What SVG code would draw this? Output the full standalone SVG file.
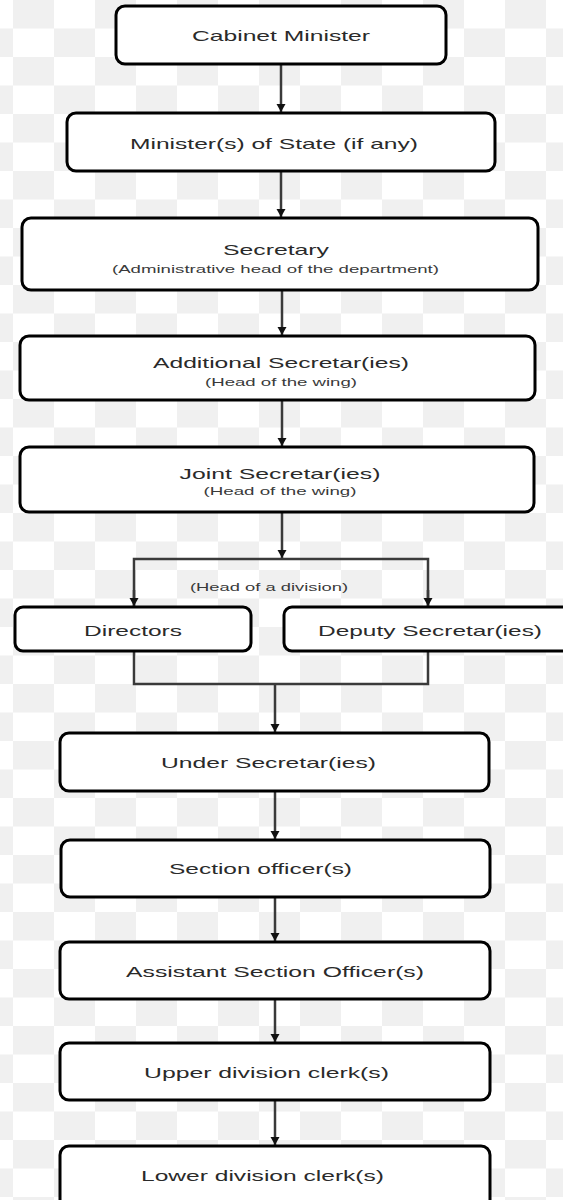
<svg xmlns="http://www.w3.org/2000/svg" width="563" height="1200" viewBox="0 0 563 1200">
<defs>
<pattern id="checker" x="13" y="0" width="82" height="57" patternUnits="userSpaceOnUse">
<rect x="0" y="0" width="82" height="57" fill="#ffffff"/>
<rect x="0" y="0" width="41" height="28.5" fill="#f0f0f0"/>
<rect x="41" y="28.5" width="41" height="28.5" fill="#f0f0f0"/>
</pattern>
<marker id="arrow" markerUnits="userSpaceOnUse" markerWidth="10" markerHeight="10" refX="8" refY="5" orient="auto">
<path d="M0,0.5 L8,5 L0,9.5 Z" fill="#111"/>
</marker>
<style>
.box{fill:#ffffff;stroke:#000;stroke-width:3}
.conn{fill:none;stroke:#3a3a3a;stroke-width:2.5}
.t{font-family:"Liberation Sans",Arial,sans-serif;font-size:15px;fill:#2a2a2a;text-anchor:middle}
.s{font-family:"Liberation Sans",Arial,sans-serif;font-size:10.5px;fill:#3a3a3a;text-anchor:middle}
</style>
</defs>
<rect x="0" y="0" width="563" height="1200" fill="url(#checker)"/>
<g id="connectors">
<line class="conn" x1="281" y1="64" x2="281" y2="112" marker-end="url(#arrow)"/>
<line class="conn" x1="281" y1="171" x2="281" y2="217" marker-end="url(#arrow)"/>
<line class="conn" x1="282" y1="290" x2="282" y2="335" marker-end="url(#arrow)"/>
<line class="conn" x1="282" y1="400" x2="282" y2="446" marker-end="url(#arrow)"/>
<line class="conn" x1="282" y1="512" x2="282" y2="558" marker-end="url(#arrow)"/>
<polyline class="conn" points="134,606 134,559 428,559 428,606"/>
<line class="conn" x1="134" y1="590" x2="134" y2="606" marker-end="url(#arrow)"/>
<line class="conn" x1="428" y1="590" x2="428" y2="606" marker-end="url(#arrow)"/>
<polyline class="conn" points="134,651 134,684 428,684 428,651"/>
<line class="conn" x1="275" y1="684" x2="275" y2="732" marker-end="url(#arrow)"/>
<line class="conn" x1="275" y1="791" x2="275" y2="839" marker-end="url(#arrow)"/>
<line class="conn" x1="275" y1="897" x2="275" y2="941" marker-end="url(#arrow)"/>
<line class="conn" x1="275" y1="999" x2="275" y2="1042" marker-end="url(#arrow)"/>
<line class="conn" x1="275" y1="1100" x2="275" y2="1145" marker-end="url(#arrow)"/>
</g>
<text class="s" x="269" y="591" textLength="158" lengthAdjust="spacingAndGlyphs">(Head of a division)</text>
<g id="cabinet-minister">
<rect class="box" x="116" y="6" width="330" height="58" rx="9"/>
<text class="t" x="281" y="41" textLength="178" lengthAdjust="spacingAndGlyphs">Cabinet Minister</text>
</g>
<g id="ministers-of-state">
<rect class="box" x="67" y="113" width="428" height="58" rx="9"/>
<text class="t" x="274" y="149" textLength="288" lengthAdjust="spacingAndGlyphs">Minister(s) of State (if any)</text>
</g>
<g id="secretary">
<rect class="box" x="22" y="218" width="516" height="72" rx="9"/>
<text class="t" x="276" y="255" textLength="106" lengthAdjust="spacingAndGlyphs">Secretary</text>
<text class="s" x="275.5" y="273" textLength="327" lengthAdjust="spacingAndGlyphs">(Administrative head of the department)</text>
</g>
<g id="additional-secretaries">
<rect class="box" x="20" y="336" width="515" height="64" rx="9"/>
<text class="t" x="281" y="368" textLength="256" lengthAdjust="spacingAndGlyphs">Additional Secretar(ies)</text>
<text class="s" x="281" y="386" textLength="152" lengthAdjust="spacingAndGlyphs">(Head of the wing)</text>
</g>
<g id="joint-secretaries">
<rect class="box" x="20" y="447" width="514" height="65" rx="9"/>
<text class="t" x="280" y="479" textLength="201" lengthAdjust="spacingAndGlyphs">Joint Secretar(ies)</text>
<text class="s" x="280" y="495" textLength="153" lengthAdjust="spacingAndGlyphs">(Head of the wing)</text>
</g>
<g id="directors">
<rect class="box" x="15" y="607" width="236" height="44" rx="8"/>
<text class="t" x="133" y="636" textLength="98" lengthAdjust="spacingAndGlyphs">Directors</text>
</g>
<g id="deputy-secretaries">
<rect class="box" x="284" y="607" width="300" height="44" rx="8"/>
<text class="t" x="430" y="636" textLength="224" lengthAdjust="spacingAndGlyphs">Deputy Secretar(ies)</text>
</g>
<g id="under-secretaries">
<rect class="box" x="60" y="733" width="429" height="58" rx="9"/>
<text class="t" x="268.5" y="768" textLength="215" lengthAdjust="spacingAndGlyphs">Under Secretar(ies)</text>
</g>
<g id="section-officers">
<rect class="box" x="61" y="840" width="429" height="57" rx="9"/>
<text class="t" x="260.5" y="874" textLength="183" lengthAdjust="spacingAndGlyphs">Section officer(s)</text>
</g>
<g id="assistant-section-officers">
<rect class="box" x="60" y="942" width="430" height="57" rx="9"/>
<text class="t" x="275" y="977" textLength="298" lengthAdjust="spacingAndGlyphs">Assistant Section Officer(s)</text>
</g>
<g id="upper-division-clerks">
<rect class="box" x="60" y="1043" width="430" height="57" rx="9"/>
<text class="t" x="266.5" y="1078" textLength="245" lengthAdjust="spacingAndGlyphs">Upper division clerk(s)</text>
</g>
<g id="lower-division-clerks">
<rect class="box" x="60" y="1146" width="430" height="70" rx="9"/>
<text class="t" x="262.5" y="1181" textLength="243" lengthAdjust="spacingAndGlyphs">Lower division clerk(s)</text>
</g>
</svg>
